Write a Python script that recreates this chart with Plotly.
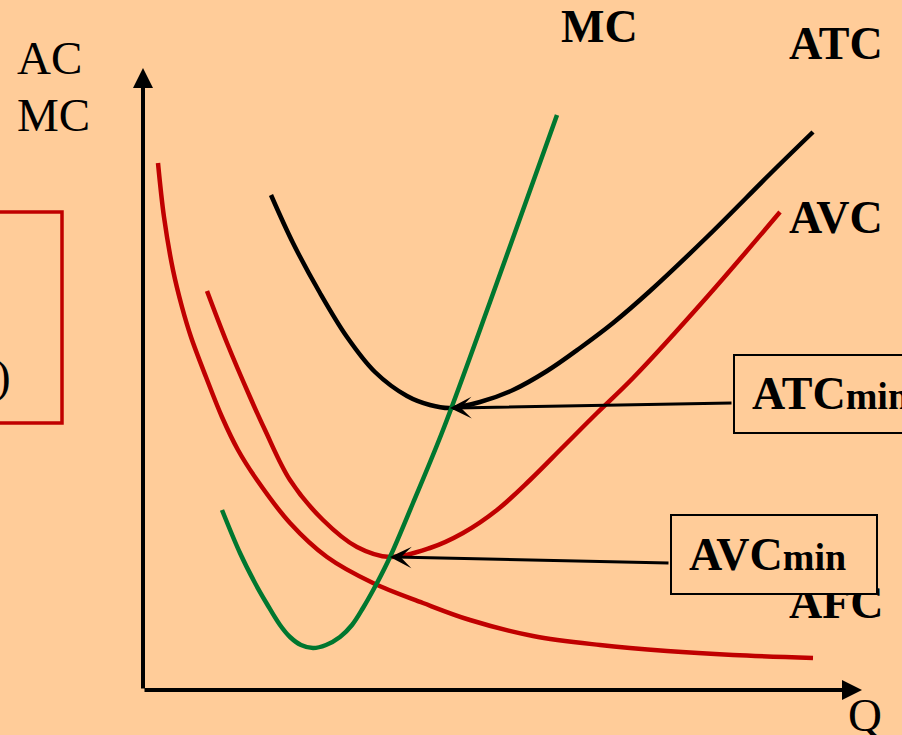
import plotly.graph_objects as go

# ---- data (Q, cost); origin at the axes corner ----
afc_q = [15, 21, 30, 39, 48, 63, 79, 95, 114, 147, 184, 230, 280, 327, 390, 457, 524, 590, 670]
afc_c = [527, 473, 420, 383, 353, 313, 273, 240, 210, 167, 133, 107, 87, 70, 54, 45, 39, 35, 32]

avc_q = [64, 84, 107, 122, 147, 180, 214, 247, 287, 320, 354, 387, 420, 454, 490, 564, 637]
avc_c = [399, 347, 293, 260, 210, 170, 143, 133, 142, 157, 180, 210, 243, 277, 312, 393, 478]

atc_q = [128, 150, 177, 204, 232, 264, 287, 307, 337, 370, 404, 437, 470, 507, 564, 630, 670]
atc_c = [495, 447, 397, 353, 318, 294, 285, 282, 288, 300, 319, 342, 367, 399, 453, 519, 558]

mc_q = [79, 97, 112, 124, 137, 147, 158, 170, 183, 197, 209, 220, 234, 247, 270, 300, 347, 380, 414]
mc_c = [180, 137, 107, 86, 65, 53, 45, 42, 45, 53, 65, 82, 107, 133, 187, 260, 388, 480, 575]

q_axis_max = 719
c_axis_max = 622

BG = "#FFCC99"
RED = "#C00000"
GREEN = "#00772F"
SERIF = "Liberation Serif, Times New Roman, serif"

W, H = 902, 735
# pixel position of the origin, used only to set up the frame
OX, OY = 143, 690


def P(px, py):
    """pixel position -> paper coords (for label placement)"""
    return px / W, 1 - py / H


fig = go.Figure()


def curve(q, c, color, name):
    fig.add_trace(go.Scatter(x=q, y=c, mode="lines", name=name,
                             line=dict(color=color, width=4.5, shape="spline", smoothing=1.0),
                             hoverinfo="skip"))


curve(afc_q, afc_c, RED, "AFC")
curve(avc_q, avc_c, RED, "AVC")
curve(atc_q, atc_c, "black", "ATC")
curve(mc_q, mc_c, GREEN, "MC")

ann = []

# axes with arrow heads
ann.append(dict(x=0, y=c_axis_max, ax=0, ay=0, xref="x", yref="y", axref="x", ayref="y",
                showarrow=True, arrowhead=2, arrowsize=1.0, arrowwidth=4, arrowcolor="black", text=""))
ann.append(dict(x=q_axis_max, y=0, ax=0, ay=0, xref="x", yref="y", axref="x", ayref="y",
                showarrow=True, arrowhead=2, arrowsize=1.0, arrowwidth=4, arrowcolor="black", text=""))

# minimum points
i_atc = atc_c.index(min(atc_c))
i_avc = avc_c.index(min(avc_c))


def label(text, px, py, size=46, bold=True, xanchor="left"):
    x, y = P(px, py)
    t = f"<b>{text}</b>" if bold else text
    ann.append(dict(x=x, y=y, xref="paper", yref="paper", text=t, showarrow=False,
                    xanchor=xanchor, yanchor="middle",
                    font=dict(family=SERIF, size=size, color="black")))


label("AC", 15, 58, 47, bold=False)
label("MC", 15, 115, 47, bold=False)
label(")", 13, 376, 47, bold=False, xanchor="right")
label("MC", 559, 27)
label("ATC", 787, 43)
label("AVC", 787, 218)
label("AFC", 787, 602)
label("Q", 846, 715, 47, bold=False)

# ATCmin box + arrow
bx, by = P(733, 354)
ann.append(dict(x=bx, y=by, xref="paper", yref="paper", text=" ", showarrow=False,
                xanchor="left", yanchor="top", width=223, height=76,
                bgcolor=BG, bordercolor="black", borderwidth=2, borderpad=0))
ann.append(dict(x=atc_q[i_atc], y=atc_c[i_atc], ax=590, ay=287, xref="x", yref="y",
                axref="x", ayref="y", showarrow=True, arrowhead=3, arrowsize=1.2,
                arrowwidth=3, arrowcolor="black", text=""))
label("ATC<span style='font-size:38px'>min</span>", 750, 393)

# AVCmin box + arrow (box covers top of the AFC label)
bx, by = P(670, 514)
ann.append(dict(x=bx, y=by, xref="paper", yref="paper", text=" ", showarrow=False,
                xanchor="left", yanchor="top", width=204, height=77,
                bgcolor=BG, bordercolor="black", borderwidth=2, borderpad=0))
ann.append(dict(x=avc_q[i_avc], y=avc_c[i_avc], ax=527, ay=127, xref="x", yref="y",
                axref="x", ayref="y", showarrow=True, arrowhead=3, arrowsize=1.2,
                arrowwidth=3, arrowcolor="black", text=""))
label("AVC<span style='font-size:38px'>min</span>", 687, 554)

# red box on the left (partly off the page)
rx0, ry0 = P(-20, 212)
rx1, ry1 = P(62, 423)
shapes = [dict(type="rect", xref="paper", yref="paper", x0=rx0, y0=ry0, x1=rx1, y1=ry1,
               line=dict(color=RED, width=3.5), fillcolor="rgba(0,0,0,0)", layer="above")]

fig.update_layout(
    width=W, height=H,
    margin=dict(l=0, r=0, t=0, b=0),
    paper_bgcolor=BG, plot_bgcolor=BG,
    showlegend=False,
    xaxis=dict(range=[-OX, W - OX], visible=False, fixedrange=True),
    yaxis=dict(range=[OY - H, OY], visible=False, fixedrange=True),
    annotations=ann,
    shapes=shapes,
)

fig.write_html("out.html", config={"displayModeBar": False},
               post_script="document.body.style.margin='0';document.body.style.background='#FFCC99';")
